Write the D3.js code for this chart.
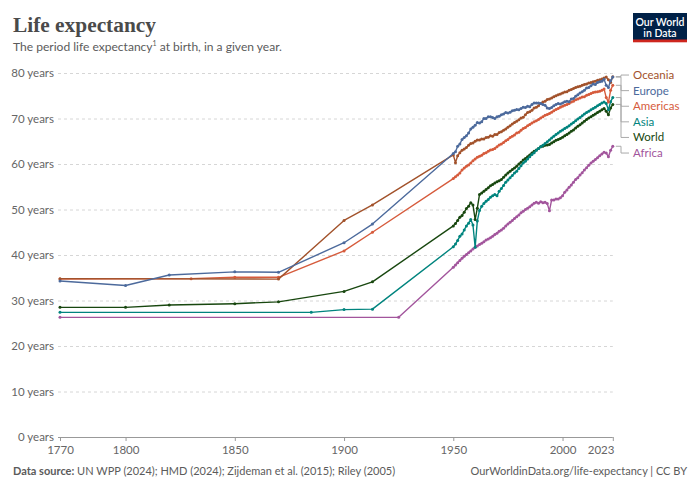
<!DOCTYPE html>
<html><head><meta charset="utf-8">
<script src="https://cdn.jsdelivr.net/npm/d3@7"></script>
<style>
body{margin:0;background:#fff;}
svg{display:block;font-family:Lato,"Noto Sans",sans-serif;}
</style></head>
<body><svg id="c" width="700" height="490"></svg>
<script>
// ---------- DATA ----------
const regions = ["Oceania","Europe","Americas","Asia","World","Africa"];
const colors = {Oceania:"#a2522b",Europe:"#4c6a9c",Americas:"#d65b3c",Asia:"#00847e",World:"#18470f",Africa:"#a2559c"};
const xTicks = [1770,1800,1850,1900,1950,2000,2023];
const yTicks = [0,10,20,30,40,50,60,70,80];

// sparse historical estimates (year, value)
const earlyYearsOceania  = [1770,1870,1900,1913];
const earlyOceania       = [34.8,34.7,47.6,51.0];
const earlyYearsEurope   = [1770,1800,1820,1850,1870,1900,1913];
const earlyEurope        = [34.3,33.3,35.6,36.3,36.2,42.7,46.8];
const earlyYearsAmericas = [1770,1830,1850,1870,1900,1913];
const earlyAmericas      = [34.7,34.8,35.1,35.1,40.9,45.0];
const earlyYearsAsia     = [1770,1885,1900,1913];
const earlyAsia          = [27.4,27.4,28.0,28.1];
const earlyYearsWorld    = [1770,1800,1820,1850,1870,1900,1913];
const earlyWorld         = [28.5,28.5,29.0,29.3,29.7,32.0,34.1];
const earlyYearsAfrica   = [1770,1925];
const earlyAfrica        = [26.3,26.3];

// annual values 1950..2023
const annualYears = d3.range(1950, 2024);
const oceania = [62.0,60.3,61.8,62.5,63.0,63.3,63.6,64.1,64.5,64.6,65.0,65.3,65.3,65.5,65.5,65.8,65.9,66.2,66.1,66.5,
 66.5,66.9,67.1,67.4,67.7,68.1,68.4,68.8,69.1,69.4,69.7,70.1,70.3,70.8,71.3,71.5,71.8,72.3,72.5,72.8,
 73.3,73.6,73.8,74.2,74.3,74.5,74.8,75.0,75.2,75.4,75.6,75.8,75.9,76.2,76.4,76.6,76.8,77.0,77.1,77.3,
 77.5,77.6,77.8,77.9,78.1,78.2,78.4,78.5,78.7,78.9,79.1,78.5,77.9,79.2];
const europe = [62.3,62.7,63.9,64.4,65.4,65.8,66.2,66.8,67.7,68.1,68.5,69.1,69.0,69.3,70.0,70.0,70.4,70.4,70.2,70.0,
 70.4,70.5,70.8,71.0,71.3,71.2,71.4,71.7,71.8,72.0,71.9,72.2,72.5,72.4,72.7,72.6,73.1,73.4,73.4,73.4,
 73.3,73.1,72.9,72.3,72.2,72.4,72.8,73.1,73.3,73.2,73.4,73.7,73.8,73.7,74.3,74.4,74.9,75.2,75.6,75.9,
 76.2,76.7,76.8,77.2,77.6,77.5,77.9,78.1,78.2,78.6,77.3,76.8,78.3,79.1];
const americas = [56.8,57.2,57.6,58.0,58.7,59.1,59.5,59.8,60.2,60.7,61.1,61.5,61.7,61.9,62.3,62.5,62.8,63.1,63.2,63.4,
 63.8,64.2,64.4,64.7,65.1,65.4,65.8,66.1,66.4,66.8,67.0,67.4,67.8,68.0,68.4,68.7,69.0,69.3,69.5,69.8,
 70.1,70.4,70.7,70.9,71.1,71.4,71.7,72.0,72.2,72.5,72.7,72.9,73.1,73.3,73.6,73.8,74.1,74.3,74.5,74.7,
 74.8,75.1,75.3,75.5,75.7,75.8,75.9,76.0,76.2,76.5,74.6,73.6,76.2,77.3];
const asia = [41.8,42.4,43.2,44.1,44.6,45.5,46.4,47.0,47.8,46.6,41.7,47.5,49.8,50.7,51.3,51.8,52.2,52.7,53.0,53.3,
 53.0,54.0,54.6,55.3,56.0,56.5,57.0,57.5,58.0,58.4,59.0,59.6,60.2,60.6,61.1,61.6,62.1,62.5,63.0,63.4,
 63.8,64.1,64.5,64.9,65.3,65.7,66.1,66.5,66.8,67.2,67.5,67.8,68.1,68.4,68.8,69.1,69.5,69.9,70.2,70.6,
 71.0,71.3,71.6,71.9,72.2,72.5,72.8,73.1,73.4,73.6,73.3,71.9,73.7,74.6];
const world = [46.4,46.9,47.6,48.3,48.7,49.4,50.2,50.7,51.5,51.0,47.8,50.3,53.3,53.6,54.0,54.4,54.8,55.2,55.5,55.8,
 56.1,56.3,56.6,57.1,57.6,58.0,58.4,58.8,59.1,59.5,60.0,60.4,60.9,61.2,61.6,62.0,62.4,62.8,63.1,63.4,
 63.8,63.9,64.1,64.2,64.3,64.6,64.9,65.2,65.4,65.6,65.9,66.2,66.5,66.8,67.2,67.5,67.9,68.3,68.6,69.0,
 69.4,69.8,70.1,70.4,70.7,71.0,71.3,71.6,71.9,72.2,71.6,70.8,72.3,73.1];
const africa = [37.3,37.8,38.3,38.8,39.3,39.7,40.1,40.5,40.9,41.3,41.7,42.0,42.3,42.6,42.9,43.3,43.5,43.8,44.1,44.5,
 44.8,45.2,45.5,45.9,46.4,46.8,47.2,47.6,48.0,48.4,48.8,49.3,49.6,50.0,50.3,50.6,51.0,51.4,51.6,51.4,
 51.7,51.5,51.6,51.3,49.7,52.1,52.1,52.3,52.3,52.6,53.0,53.8,54.3,54.9,55.4,56.0,56.6,57.0,57.6,58.1,
 58.7,59.2,59.7,60.2,60.6,61.0,61.4,61.8,62.2,62.6,62.4,61.6,63.0,63.9];

const early = {
  Oceania:[earlyYearsOceania,earlyOceania], Europe:[earlyYearsEurope,earlyEurope],
  Americas:[earlyYearsAmericas,earlyAmericas], Asia:[earlyYearsAsia,earlyAsia],
  World:[earlyYearsWorld,earlyWorld], Africa:[earlyYearsAfrica,earlyAfrica]};
const annual = {Oceania:oceania,Europe:europe,Americas:americas,Asia:asia,World:world,Africa:africa};

const series = regions.map(r => {
  const pts = early[r][0].map((yr,i)=>({year:yr,value:early[r][1][i]}))
    .concat(annualYears.map((yr,i)=>({year:yr,value:annual[r][i]})));
  return {name:r, points:pts};
});

// ---------- CHART ----------
const svg = d3.select("#c");
const x = d3.scaleLinear().domain([1770,2023]).range([60,612.8]);
const y = d3.scaleLinear().domain([0,80]).range([437,73]);
const gridLeft = 58;

// title
const title = svg.append("text").attr("x",13).attr("y",32)
  .style("font-family","'Liberation Serif','DejaVu Serif',serif").style("font-weight","700")
  .style("font-size","22px").attr("fill","#4a4a4a").text("Life expectancy");
{ const w = title.node().getComputedTextLength(); title.style("font-size",(22*143/w)+"px"); }

const sub = svg.append("text").attr("x",13).attr("y",51).attr("fill","#5b5b5b").style("font-size","13px");
sub.append("tspan").text("The period life expectancy");
sub.append("tspan").attr("dy",-5).style("font-size","7px").text("1");
sub.append("tspan").attr("dy",5).text(" at birth, in a given year.");
{ const w = sub.node().getComputedTextLength(); sub.style("font-size",(13*269/w)+"px"); }

// logo
const logo = svg.append("g");
logo.append("rect").attr("x",633).attr("y",13).attr("width",54).attr("height",29).attr("fill","#002147");
logo.append("rect").attr("x",633).attr("y",39.5).attr("width",54).attr("height",2.8).attr("fill","#ce261e");
logo.append("text").attr("x",660).attr("y",26).attr("text-anchor","middle").attr("fill","#fff")
  .style("font-size","10.5px").style("font-weight","600").text("Our World");
logo.append("text").attr("x",660).attr("y",36.5).attr("text-anchor","middle").attr("fill","#fff")
  .style("font-size","10.5px").style("font-weight","600").text("in Data");

// y axis & grid
const yAxis = svg.append("g").attr("transform",`translate(${gridLeft},0)`)
  .call(d3.axisLeft(y).tickValues(yTicks).tickSize(-(612.8-gridLeft)).tickPadding(4).tickFormat(d=>d+" years"));
yAxis.select(".domain").remove();
yAxis.selectAll(".tick line").attr("stroke","#d6d6d6").attr("stroke-dasharray","3,3")
  .filter(d=>d===0).remove();
yAxis.selectAll(".tick text").attr("fill","#666").style("font-size","11.5px").style("font-family","Lato");

// x axis
const xAxis = svg.append("g").attr("transform",`translate(0,437)`)
  .call(d3.axisBottom(x).tickValues(xTicks).tickSize(4).tickPadding(5).tickFormat(d3.format("d")));
xAxis.select(".domain").attr("stroke","#999").attr("d",`M${gridLeft},0.5H612.8`);
xAxis.selectAll(".tick line").attr("stroke","#999");
xAxis.selectAll(".tick text").attr("fill","#666").style("font-size","11.5px").style("font-family","Lato");
xAxis.selectAll(".tick text").filter(d=>d===2023).attr("text-anchor","end").attr("dx","0.1em");

// lines
const line = d3.line().x(d=>x(d.year)).y(d=>y(d.value));
const drawOrder = ["Africa","World","Asia","Americas","Oceania","Europe"];
drawOrder.forEach(name=>{
  const s = series.find(d=>d.name===name);
  const g = svg.append("g");
  g.append("path").datum(s.points).attr("d",line).attr("fill","none")
    .attr("stroke",colors[name]).attr("stroke-width",1.4).attr("stroke-linejoin","round");
  g.selectAll("circle").data(s.points).join("circle")
    .attr("cx",d=>x(d.year)).attr("cy",d=>y(d.value)).attr("r",1.5).attr("fill",colors[name]);
});

// legend labels with connectors
const ends = series.map(s=>({name:s.name, v:s.points[s.points.length-1].value}))
  .sort((a,b)=>b.v-a.v);
let prev = -Infinity;
ends.forEach((e,i)=>{
  e.yEnd = y(e.v);
  const want = e.yEnd - 1.6;
  e.yLab = Math.max(want, prev + 15.6);
  prev = e.yLab;
});
const xEnd = x(2023);
ends.forEach((e,i)=>{
  const xm = 621;
  svg.append("path").attr("d",`M${xEnd+3},${e.yEnd}H${xm}V${e.yLab}H629`)
    .attr("fill","none").attr("stroke","#aaa").attr("stroke-width",1);
  svg.append("text").attr("x",633).attr("y",e.yLab).attr("dy","0.35em")
    .attr("fill",colors[e.name]).style("font-size","11.5px").text(e.name);
});

// footer
const foot = svg.append("text").attr("x",13).attr("y",475).attr("fill","#5b5b5b").style("font-size","11px");
foot.append("tspan").style("font-weight","700").text("Data source:");
foot.append("tspan").text(" UN WPP (2024); HMD (2024); Zijdeman et al. (2015); Riley (2005)");
svg.append("text").attr("x",687).attr("y",475).attr("text-anchor","end").attr("fill","#5b5b5b")
  .style("font-size","11px").text("OurWorldinData.org/life-expectancy | CC BY");
</script></body></html>
